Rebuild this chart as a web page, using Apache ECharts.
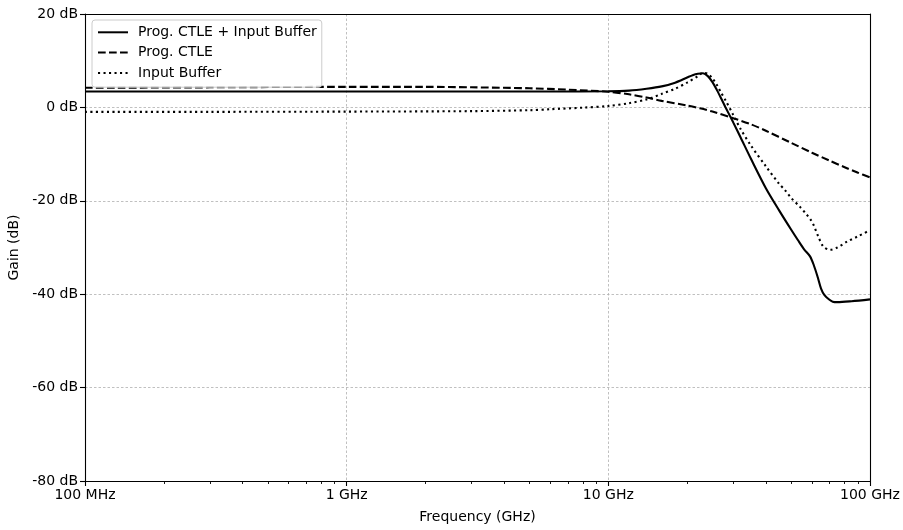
<!DOCTYPE html>
<html>
<head>
<meta charset="utf-8">
<script src="https://cdn.jsdelivr.net/npm/echarts@6/dist/echarts.min.js"></script>
<style>
  html, body { margin: 0; padding: 0; background: #fff; }
  #chart { width: 903px; height: 530px; }
</style>
</head>
<body>
<div id="chart"></div>
<script>
// Frequency response of the programmable CTLE front end (gain in dB vs GHz)
const freqCombined = [0.1, 0.3, 1, 3, 6, 10, 12, 14, 16, 18, 20, 21, 22, 23, 24, 25, 26, 27, 28, 30, 32, 35, 40, 45, 50, 53, 56, 59, 61, 63, 65, 67, 70, 72, 75, 85, 100];
const gainCombined = [3.4, 3.4, 3.4, 3.4, 3.4, 3.45, 3.6, 4.0, 4.5, 5.3, 6.4, 6.9, 7.2, 7.3, 6.7, 5.4, 3.7, 1.9, 0.1, -3.2, -6.4, -10.9, -17.3, -22.1, -26.2, -28.4, -30.4, -31.9, -33.8, -36.2, -38.8, -40.2, -41.2, -41.6, -41.7, -41.5, -41.1];

const freqCtle = [0.1, 0.3, 1, 2, 3, 5, 7, 10, 12, 14, 16, 20, 22.4, 25, 30, 35, 40, 50, 60, 70, 80, 90, 100];
const gainCtle = [4.2, 4.3, 4.4, 4.4, 4.3, 4.1, 3.8, 3.35, 2.8, 2.1, 1.4, 0.4, -0.2, -0.9, -2.3, -3.6, -5.0, -7.6, -9.7, -11.4, -12.8, -14.0, -15.0];

const freqBuffer = [0.1, 0.3, 1, 3, 5, 6, 8, 10, 12, 14, 16, 18, 20, 22, 23, 24, 25, 26, 27, 28, 30, 32, 35, 40, 45, 47.3, 50, 54, 57, 59.4, 61, 63.5, 66.3, 70.4, 75, 81.4, 90, 100];
const gainBuffer = [-0.95, -0.95, -0.9, -0.8, -0.6, -0.4, -0.05, 0.3, 0.9, 1.7, 2.9, 4.0, 5.3, 6.7, 7.4, 7.2, 6.2, 4.8, 3.1, 1.6, -1.6, -4.6, -8.1, -12.6, -16.4, -17.7, -19.4, -21.3, -22.8, -24.1, -25.3, -27.7, -29.8, -30.5, -30.0, -28.8, -27.6, -26.3];

const seriesNames = ['Prog. CTLE + Input Buffer', 'Prog. CTLE', 'Input Buffer'];

const xTickValues = [0.1, 1, 10, 100];
const xTickLabels = ['100 MHz', '1 GHz', '10 GHz', '100 GHz'];
const yTickValues = [-80, -60, -40, -20, 0, 20];
const yTickLabels = ['-80 dB', '-60 dB', '-40 dB', '-20 dB', '0 dB', '20 dB'];

// log-decade minor tick positions (2..9 x each decade)
const xMinorTicks = [];
for (let d = 0; d < xTickValues.length - 1; d++) {
  for (let m = 2; m <= 9; m++) xMinorTicks.push(+(xTickValues[d] * m).toPrecision(6));
}

const pairs = (xs, ys) => xs.map((x, i) => [x, ys[i]]);
const font = 'DejaVu Sans';
const fs = 14;

const chart = echarts.init(document.getElementById('chart'), null, { renderer: 'canvas' });

function xLabel(v) {
  let best = 0;
  xTickValues.forEach((t, i) => { if (Math.abs(Math.log10(t) - Math.log10(v)) < 1e-6) best = i; });
  return xTickLabels[best];
}
function yLabel(v) {
  const i = yTickValues.indexOf(Math.round(v));
  return i >= 0 ? yTickLabels[i] : '';
}

const lineBase = { type: 'line', showSymbol: false, symbol: 'none', smooth: 0.3, animation: false, xAxisIndex: 0, yAxisIndex: 0 };
const gridLine = { show: true, lineStyle: { color: '#b0b0b0', width: 0.8, type: [2.5, 2] } };

chart.setOption({
  animation: false,
  backgroundColor: '#ffffff',
  textStyle: { fontFamily: font },
  grid: {
    left: 85, right: 33, top: 14, bottom: 49,
    outerBoundsMode: 'none', containLabel: false,
    show: false
  },
  legend: {
    left: 92, top: 20, orient: 'vertical',
    padding: [5.3, 5, 7.3, 5],
    itemWidth: 30, itemHeight: 14, itemGap: 6.3,
    backgroundColor: 'rgba(255,255,255,0.8)',
    borderColor: '#cccccc', borderWidth: 1, borderRadius: 3,
    itemStyle: { opacity: 0 },
    textStyle: { fontFamily: font, fontSize: fs, lineHeight: 14, color: '#000', padding: [0, 0, 0, 5] },
    data: seriesNames
  },
  xAxis: [{
    type: 'log', logBase: 10, min: 0.1, max: 100, position: 'bottom',
    name: 'Frequency (GHz)', nameLocation: 'middle', nameGap: 29,
    nameTextStyle: { fontFamily: font, fontSize: fs, color: '#000' },
    axisLine: { show: true, onZero: false, lineStyle: { color: '#000', width: 1.1 } },
    axisTick: { show: true, inside: false, length: 5, lineStyle: { color: '#000', width: 1.1 } },
    axisLabel: { formatter: xLabel, fontFamily: font, fontSize: fs, color: '#000', margin: 7 },
    splitLine: gridLine
  }, {
    // minor ticks along the bottom edge
    type: 'log', logBase: 10, min: 0.1, max: 100, position: 'bottom', offset: 0, z: 10,
    axisLine: { show: true, onZero: false, lineStyle: { color: 'rgba(0,0,0,0)' } },
    axisTick: { show: true, inside: false, length: 3, customValues: xMinorTicks, lineStyle: { color: '#000', width: 0.9 } },
    axisLabel: { show: false },
    splitLine: { show: false }
  }, {
    // top frame edge
    type: 'log', logBase: 10, min: 0.1, max: 100, position: 'top', z: 10,
    axisLine: { show: true, onZero: false, lineStyle: { color: '#000', width: 1.1 } },
    axisTick: { show: false }, axisLabel: { show: false }, splitLine: { show: false }
  }],
  yAxis: [{
    type: 'value', min: -80, max: 20, interval: 20, position: 'left',
    name: 'Gain (dB)', nameLocation: 'middle', nameGap: 59, nameRotate: 90,
    nameTextStyle: { fontFamily: font, fontSize: fs, color: '#000' },
    axisLine: { show: true, onZero: false, lineStyle: { color: '#000', width: 1.1 } },
    axisTick: { show: true, inside: false, length: 5, lineStyle: { color: '#000', width: 1.1 } },
    axisLabel: { formatter: yLabel, fontFamily: font, fontSize: fs, color: '#000', margin: 7 },
    splitLine: gridLine
  }, {
    // right frame edge
    type: 'value', min: -80, max: 20, interval: 20, position: 'right', z: 10,
    axisLine: { show: true, onZero: false, lineStyle: { color: '#000', width: 1.1 } },
    axisTick: { show: false }, axisLabel: { show: false }, splitLine: { show: false }
  }],
  series: [
    Object.assign({}, lineBase, {
      name: seriesNames[0], data: pairs(freqCombined, gainCombined), z: 3,
      lineStyle: { color: '#000', width: 2.1, type: 'solid' }, itemStyle: { color: '#000' }
    }),
    Object.assign({}, lineBase, {
      name: seriesNames[1], data: pairs(freqCtle, gainCtle), z: 2,
      lineStyle: { color: '#000', width: 2.1, type: [7.7, 3.3] }, itemStyle: { color: '#000' }
    }),
    Object.assign({}, lineBase, {
      name: seriesNames[2], data: pairs(freqBuffer, gainBuffer), z: 2,
      lineStyle: { color: '#000', width: 2.1, type: [2.1, 3.4] }, itemStyle: { color: '#000' }
    })
  ]
});
</script>
</body>
</html>
